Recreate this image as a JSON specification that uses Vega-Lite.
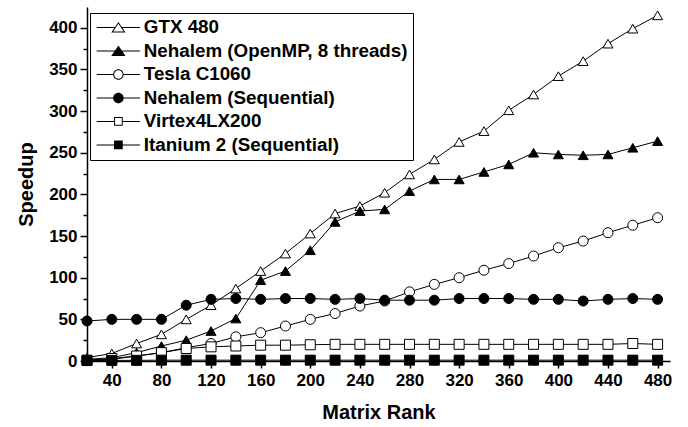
{
  "$schema": "https://vega.github.io/schema/vega-lite/v6.json",
  "width": 583,
  "height": 354,
  "autosize": {"type": "none"},
  "padding": {"left": 87, "top": 7, "right": 18, "bottom": 66},
  "background": "white",
  "config": {
    "view": {"stroke": null},
    "font": "Liberation Sans",
    "axis": {
      "domainColor": "black", "domainWidth": 1.5, "tickColor": "black", "tickWidth": 1.5,
      "labelFont": "Liberation Sans", "labelFontWeight": "bold", "labelFontSize": 17, "labelColor": "black",
      "titleFont": "Liberation Sans", "titleFontWeight": "bold", "titleFontSize": 20, "titleColor": "black",
      "grid": false
    },
    "legend": {"labelFont": "Liberation Sans", "labelFontWeight": "bold", "labelFontSize": 18.8, "labelColor": "black", "labelLimit": 0}
  },
  "data": {"values": [
    {"r":20,"s":"GTX 480","v":4},{"r":40,"s":"GTX 480","v":9},{"r":60,"s":"GTX 480","v":21},{"r":80,"s":"GTX 480","v":32},{"r":100,"s":"GTX 480","v":50},{"r":120,"s":"GTX 480","v":67},{"r":140,"s":"GTX 480","v":87},{"r":160,"s":"GTX 480","v":108},{"r":180,"s":"GTX 480","v":129},{"r":200,"s":"GTX 480","v":153},{"r":220,"s":"GTX 480","v":177},{"r":240,"s":"GTX 480","v":186},{"r":260,"s":"GTX 480","v":202},{"r":280,"s":"GTX 480","v":224},{"r":300,"s":"GTX 480","v":242},{"r":320,"s":"GTX 480","v":263},{"r":340,"s":"GTX 480","v":276},{"r":360,"s":"GTX 480","v":301},{"r":380,"s":"GTX 480","v":320},{"r":400,"s":"GTX 480","v":342},{"r":420,"s":"GTX 480","v":360},{"r":440,"s":"GTX 480","v":381},{"r":460,"s":"GTX 480","v":399},{"r":480,"s":"GTX 480","v":415},
    {"r":20,"s":"Nehalem (OpenMP, 8 threads)","v":2},{"r":40,"s":"Nehalem (OpenMP, 8 threads)","v":4},{"r":60,"s":"Nehalem (OpenMP, 8 threads)","v":10},{"r":80,"s":"Nehalem (OpenMP, 8 threads)","v":18},{"r":100,"s":"Nehalem (OpenMP, 8 threads)","v":25},{"r":120,"s":"Nehalem (OpenMP, 8 threads)","v":36},{"r":140,"s":"Nehalem (OpenMP, 8 threads)","v":51},{"r":160,"s":"Nehalem (OpenMP, 8 threads)","v":97},{"r":180,"s":"Nehalem (OpenMP, 8 threads)","v":108},{"r":200,"s":"Nehalem (OpenMP, 8 threads)","v":133},{"r":220,"s":"Nehalem (OpenMP, 8 threads)","v":167},{"r":240,"s":"Nehalem (OpenMP, 8 threads)","v":180},{"r":260,"s":"Nehalem (OpenMP, 8 threads)","v":182},{"r":280,"s":"Nehalem (OpenMP, 8 threads)","v":204},{"r":300,"s":"Nehalem (OpenMP, 8 threads)","v":218},{"r":320,"s":"Nehalem (OpenMP, 8 threads)","v":218},{"r":340,"s":"Nehalem (OpenMP, 8 threads)","v":227},{"r":360,"s":"Nehalem (OpenMP, 8 threads)","v":236},{"r":380,"s":"Nehalem (OpenMP, 8 threads)","v":250},{"r":400,"s":"Nehalem (OpenMP, 8 threads)","v":248},{"r":420,"s":"Nehalem (OpenMP, 8 threads)","v":247},{"r":440,"s":"Nehalem (OpenMP, 8 threads)","v":248},{"r":460,"s":"Nehalem (OpenMP, 8 threads)","v":256},{"r":480,"s":"Nehalem (OpenMP, 8 threads)","v":264},
    {"r":20,"s":"Tesla C1060","v":1},{"r":40,"s":"Tesla C1060","v":2},{"r":60,"s":"Tesla C1060","v":6},{"r":80,"s":"Tesla C1060","v":10},{"r":100,"s":"Tesla C1060","v":16},{"r":120,"s":"Tesla C1060","v":21},{"r":140,"s":"Tesla C1060","v":29},{"r":160,"s":"Tesla C1060","v":34},{"r":180,"s":"Tesla C1060","v":42},{"r":200,"s":"Tesla C1060","v":50},{"r":220,"s":"Tesla C1060","v":57},{"r":240,"s":"Tesla C1060","v":66},{"r":260,"s":"Tesla C1060","v":72},{"r":280,"s":"Tesla C1060","v":83},{"r":300,"s":"Tesla C1060","v":92},{"r":320,"s":"Tesla C1060","v":100},{"r":340,"s":"Tesla C1060","v":109},{"r":360,"s":"Tesla C1060","v":117},{"r":380,"s":"Tesla C1060","v":126},{"r":400,"s":"Tesla C1060","v":136},{"r":420,"s":"Tesla C1060","v":144},{"r":440,"s":"Tesla C1060","v":154},{"r":460,"s":"Tesla C1060","v":163},{"r":480,"s":"Tesla C1060","v":172},
    {"r":20,"s":"Nehalem (Sequential)","v":48},{"r":40,"s":"Nehalem (Sequential)","v":50},{"r":60,"s":"Nehalem (Sequential)","v":50},{"r":80,"s":"Nehalem (Sequential)","v":50},{"r":100,"s":"Nehalem (Sequential)","v":67},{"r":120,"s":"Nehalem (Sequential)","v":74},{"r":140,"s":"Nehalem (Sequential)","v":75},{"r":160,"s":"Nehalem (Sequential)","v":74},{"r":180,"s":"Nehalem (Sequential)","v":75},{"r":200,"s":"Nehalem (Sequential)","v":75},{"r":220,"s":"Nehalem (Sequential)","v":74},{"r":240,"s":"Nehalem (Sequential)","v":75},{"r":260,"s":"Nehalem (Sequential)","v":73},{"r":280,"s":"Nehalem (Sequential)","v":73},{"r":300,"s":"Nehalem (Sequential)","v":73},{"r":320,"s":"Nehalem (Sequential)","v":75},{"r":340,"s":"Nehalem (Sequential)","v":75},{"r":360,"s":"Nehalem (Sequential)","v":75},{"r":380,"s":"Nehalem (Sequential)","v":74},{"r":400,"s":"Nehalem (Sequential)","v":74},{"r":420,"s":"Nehalem (Sequential)","v":72},{"r":440,"s":"Nehalem (Sequential)","v":74},{"r":460,"s":"Nehalem (Sequential)","v":75},{"r":480,"s":"Nehalem (Sequential)","v":74},
    {"r":20,"s":"Virtex4LX200","v":1},{"r":40,"s":"Virtex4LX200","v":3},{"r":60,"s":"Virtex4LX200","v":6},{"r":80,"s":"Virtex4LX200","v":10},{"r":100,"s":"Virtex4LX200","v":15},{"r":120,"s":"Virtex4LX200","v":17},{"r":140,"s":"Virtex4LX200","v":18},{"r":160,"s":"Virtex4LX200","v":19},{"r":180,"s":"Virtex4LX200","v":19},{"r":200,"s":"Virtex4LX200","v":19.5},{"r":220,"s":"Virtex4LX200","v":20},{"r":240,"s":"Virtex4LX200","v":20},{"r":260,"s":"Virtex4LX200","v":20},{"r":280,"s":"Virtex4LX200","v":20},{"r":300,"s":"Virtex4LX200","v":20},{"r":320,"s":"Virtex4LX200","v":20},{"r":340,"s":"Virtex4LX200","v":20},{"r":360,"s":"Virtex4LX200","v":20},{"r":380,"s":"Virtex4LX200","v":20},{"r":400,"s":"Virtex4LX200","v":20},{"r":420,"s":"Virtex4LX200","v":20},{"r":440,"s":"Virtex4LX200","v":20},{"r":460,"s":"Virtex4LX200","v":21},{"r":480,"s":"Virtex4LX200","v":20},
    {"r":20,"s":"Itanium 2 (Sequential)","v":0.5},{"r":40,"s":"Itanium 2 (Sequential)","v":0.7},{"r":60,"s":"Itanium 2 (Sequential)","v":0.8},{"r":80,"s":"Itanium 2 (Sequential)","v":1},{"r":100,"s":"Itanium 2 (Sequential)","v":1},{"r":120,"s":"Itanium 2 (Sequential)","v":1},{"r":140,"s":"Itanium 2 (Sequential)","v":1},{"r":160,"s":"Itanium 2 (Sequential)","v":1},{"r":180,"s":"Itanium 2 (Sequential)","v":1},{"r":200,"s":"Itanium 2 (Sequential)","v":1},{"r":220,"s":"Itanium 2 (Sequential)","v":1},{"r":240,"s":"Itanium 2 (Sequential)","v":1},{"r":260,"s":"Itanium 2 (Sequential)","v":1},{"r":280,"s":"Itanium 2 (Sequential)","v":1},{"r":300,"s":"Itanium 2 (Sequential)","v":1},{"r":320,"s":"Itanium 2 (Sequential)","v":1},{"r":340,"s":"Itanium 2 (Sequential)","v":1},{"r":360,"s":"Itanium 2 (Sequential)","v":1},{"r":380,"s":"Itanium 2 (Sequential)","v":1},{"r":400,"s":"Itanium 2 (Sequential)","v":1},{"r":420,"s":"Itanium 2 (Sequential)","v":1},{"r":440,"s":"Itanium 2 (Sequential)","v":1},{"r":460,"s":"Itanium 2 (Sequential)","v":1},{"r":480,"s":"Itanium 2 (Sequential)","v":1}
  ]},
  "encoding": {
    "x": {"field": "r", "type": "quantitative",
      "scale": {"domain": [20, 490], "nice": false, "zero": false},
      "axis": {"title": "Matrix Rank", "values": [20,40,60,80,100,120,140,160,180,200,220,240,260,280,300,320,340,360,380,400,420,440,460,480],
        "labelExpr": "datum.value % 40 === 0 ? datum.label : ''",
        "tickSize": {"condition": {"test": "datum.value % 40 === 0", "value": 7}, "value": 4},
        "labelPadding": 4, "titlePadding": 14, "labelFlush": false, "labelOverlap": false}},
    "y": {"field": "v", "type": "quantitative",
      "scale": {"domain": [0, 425], "nice": false},
      "axis": {"title": "Speedup", "values": [0,25,50,75,100,125,150,175,200,225,250,275,300,325,350,375,400],
        "labelExpr": "datum.value % 50 === 0 ? datum.label : ''",
        "tickSize": {"condition": {"test": "datum.value % 50 === 0", "value": 7}, "value": 4},
        "labelPadding": 3, "titlePadding": 12, "labelFlush": false, "labelOverlap": false}}
  },
  "layer": [
    {"mark": {"type": "line", "color": "black", "strokeWidth": 1},
     "encoding": {"detail": {"field": "s"}}},
    {"mark": {"type": "point", "filled": false, "stroke": "black", "strokeWidth": 1, "opacity": 1},
     "encoding": {
       "shape": {"field": "s", "type": "nominal",
         "scale": {"domain": ["GTX 480","Nehalem (OpenMP, 8 threads)","Tesla C1060","Nehalem (Sequential)","Virtex4LX200","Itanium 2 (Sequential)"],
                   "range": ["triangle-up","triangle-up","circle","circle","square","square"]}, "legend": null},
       "fill": {"field": "s", "type": "nominal",
         "scale": {"domain": ["GTX 480","Nehalem (OpenMP, 8 threads)","Tesla C1060","Nehalem (Sequential)","Virtex4LX200","Itanium 2 (Sequential)"],
                   "range": ["white","black","white","black","white","black"]}, "legend": null},
       "size": {"field": "s", "type": "nominal",
         "scale": {"domain": ["GTX 480","Nehalem (OpenMP, 8 threads)","Tesla C1060","Nehalem (Sequential)","Virtex4LX200","Itanium 2 (Sequential)"],
                   "range": [100,100,81,81,50,50]}, "legend": null}
     }},
    {"mark": {"type": "point", "filled": true, "color": "black", "strokeWidth": 0, "size": 0},
     "encoding": {
       "shape": {"field": "s", "type": "nominal",
         "scale": {"domain": ["GTX 480","Nehalem (OpenMP, 8 threads)","Tesla C1060","Nehalem (Sequential)","Virtex4LX200","Itanium 2 (Sequential)"],
                   "range": [
                     "M-3.62,-0.083H-0.55V0.083H-3.62Z M0.55,-0.083H3.62V0.083H0.55Z M0,-0.897L1.188,0.833L-1.188,0.833Z M0,-0.603L-0.872,0.667L0.872,0.667Z",
                     "M-3.62,-0.083H3.62V0.083H-3.62Z M0,-0.897L1.188,0.833L-1.188,0.833Z",
                     "M-3.62,-0.083H-0.8V0.083H-3.62Z M0.8,-0.083H3.62V0.083H0.8Z M-0.875,0C-0.875,-0.483,-0.483,-0.875,0,-0.875C0.483,-0.875,0.875,-0.483,0.875,0C0.875,0.483,0.483,0.875,0,0.875C-0.483,0.875,-0.875,0.483,-0.875,0Z M-0.708,0C-0.708,0.391,-0.391,0.708,0,0.708C0.391,0.708,0.708,0.391,0.708,0C0.708,-0.391,0.391,-0.708,0,-0.708C-0.391,-0.708,-0.708,-0.391,-0.708,0Z",
                     "M-3.62,-0.083H3.62V0.083H-3.62Z M-0.875,0C-0.875,-0.483,-0.483,-0.875,0,-0.875C0.483,-0.875,0.875,-0.483,0.875,0C0.875,0.483,0.483,0.875,0,0.875C-0.483,0.875,-0.875,0.483,-0.875,0Z",
                     "M-3.62,-0.083H-0.64V0.083H-3.62Z M0.64,-0.083H3.62V0.083H0.64Z M-0.725,-0.725H0.725V0.725H-0.725Z M-0.558,-0.558V0.558H0.558V-0.558Z",
                     "M-3.62,-0.083H3.62V0.083H-3.62Z M-0.725,-0.725H0.725V0.725H-0.725Z"]},
         "legend": {"title": null, "orient": "none", "legendX": 3, "legendY": 6, "padding": 5,
           "strokeColor": "black", "fillColor": "white", "symbolSize": 144, "symbolOffset": 14, "labelOffset": 16, "rowPadding": 3.5,
           "symbolFillColor": "black", "symbolStrokeColor": "transparent", "symbolStrokeWidth": 0, "symbolOpacity": 1, "labelLimit": 0}}
     }}
  ],
  "resolve": {"scale": {"shape": "independent", "fill": "independent", "size": "independent"}}
}
